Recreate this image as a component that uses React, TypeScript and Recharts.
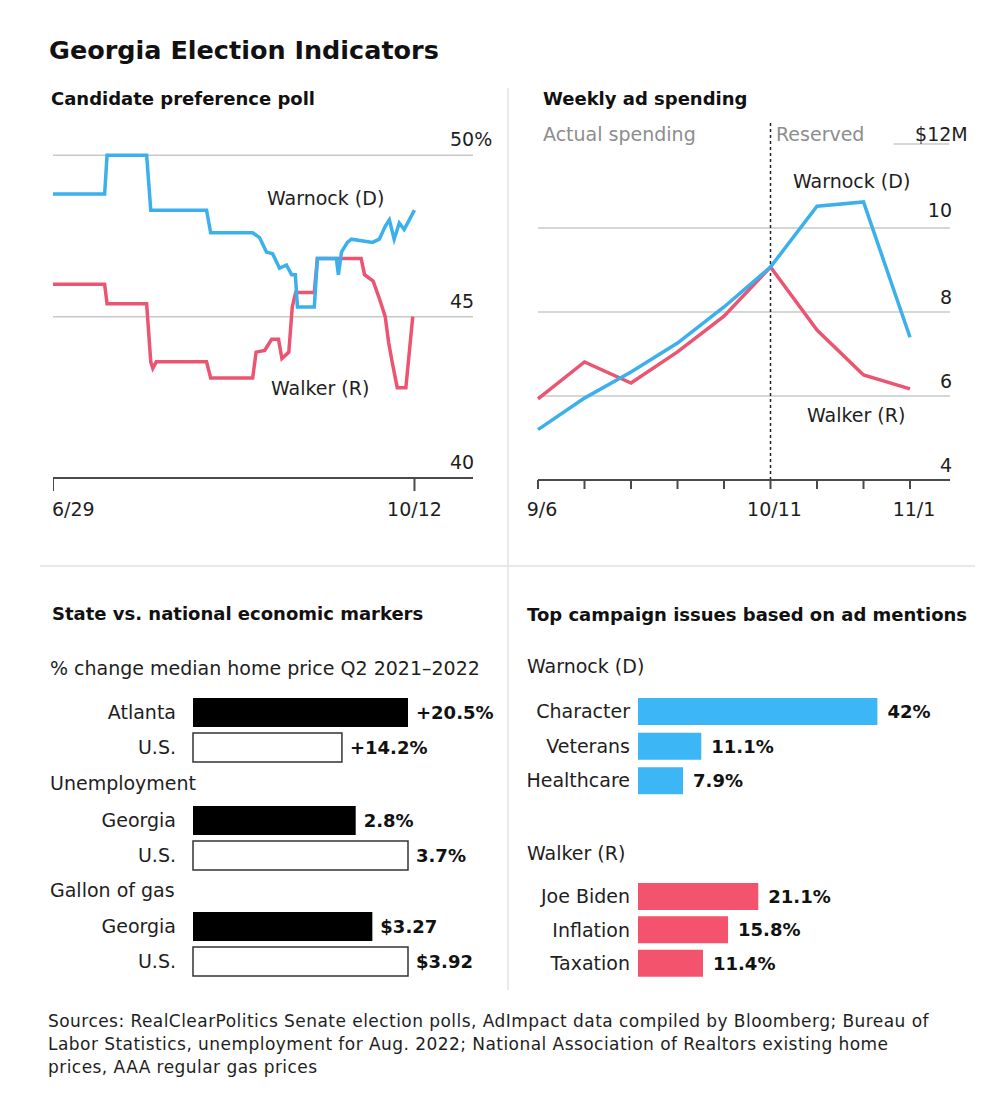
import React from 'react';
import { LineChart, Line, XAxis, YAxis, ReferenceLine, BarChart, Bar, Cell, LabelList } from 'recharts';

const FONT = '"DejaVu Sans", sans-serif';
const BLUE = '#3bb0ec';
const RED = '#eb5571';
const BLUE_BAR = '#3cb6f5';
const RED_BAR = '#f4536d';
const GRID = '#c8c8c8';
const AXIS = '#4a4a4a';
const INK = '#1e1e1e';
const GRAY = '#8d8d8d';

// Candidate preference poll (days after 6/29, percent)
const warnockPollDays = [0, 15, 15.7, 27.2, 28.4, 44.6, 45.8, 58, 60, 62, 63.8, 65.8, 67.8, 69.3, 70.4, 71, 75.9, 76.8, 82.3, 82.9, 83.8, 85.5, 86.7, 92.8, 94.8, 96.5, 97.7, 99.1, 100.6, 102, 103.5, 105];
const warnockPollValues = [48.8, 48.8, 50, 50, 48.3, 48.3, 47.6, 47.6, 47.45, 47.0, 46.95, 46.5, 46.6, 46.3, 46.3, 45.3, 45.3, 46.8, 46.8, 46.3, 47.0, 47.3, 47.4, 47.3, 47.4, 47.8, 48.0, 47.4, 47.9, 47.7, 48.0, 48.3];
const walkerPollDays = [0, 15, 15.7, 27.2, 28.4, 29, 30, 44.6, 45.8, 58, 59, 61.5, 63.5, 65.5, 66.5, 68.5, 69.5, 70.5, 75.9, 76.8, 89.5, 90.5, 93, 95, 96.5, 97.5, 98.5, 100, 102.5, 104.5];
const walkerPollValues = [46.0, 46.0, 45.4, 45.4, 43.6, 43.4, 43.6, 43.6, 43.1, 43.1, 43.9, 43.95, 44.3, 44.3, 43.7, 43.9, 45.3, 45.75, 45.75, 46.8, 46.8, 46.3, 46.1, 45.5, 45.0, 44.2, 43.6, 42.8, 42.8, 45.0];
const pollTickDays = [0, 105];
const pollTickLabels = ['6/29', '10/12'];
const pollGridValues = [40, 45, 50];
const pollGridLabels = ['40', '45', '50%'];

// Weekly ad spending ($M), weeks from 9/6
const adWeekLabels = ['9/6', '9/13', '9/20', '9/27', '10/4', '10/11', '10/18', '10/25', '11/1'];
const warnockAd = [5.2, 5.95, 6.57, 7.26, 8.12, 9.07, 10.52, 10.62, 7.4];
const walkerAd = [5.93, 6.81, 6.31, 7.05, 7.9, 9.07, 7.57, 6.5, 6.17];
const adShownTicks = ['9/6', '10/11', '11/1'];
const adGridValues = [4, 6, 8, 10];

// Economic markers
const pairNames = ['U.S.'];
const homeNames = ['Atlanta', 'U.S.'];
const homeValues = [20.5, 14.2];
const jobNames = ['Georgia', 'U.S.'];
const jobValues = [2.8, 3.7];
const gasNames = ['Georgia', 'U.S.'];
const gasValues = [3.27, 3.92];

// Campaign issues (% of ad mentions)
const warnockIssues = ['Character', 'Veterans', 'Healthcare'];
const warnockShares = [42, 11.1, 7.9];
const walkerIssues = ['Joe Biden', 'Inflation', 'Taxation'];
const walkerShares = [21.1, 15.8, 11.4];

const zipPoll = (days: number[], vals: number[]) => days.map((d, i) => ({ day: d, v: vals[i] }));
const warnockPoll = zipPoll(warnockPollDays, warnockPollValues);
const walkerPoll = zipPoll(walkerPollDays, walkerPollValues);
const adData = adWeekLabels.map((w, i) => ({ week: i, label: w, warnock: warnockAd[i], walker: walkerAd[i] }));

function GridLabel(props: any) {
  const { viewBox, text, dx, dy, anchor } = props;
  if (!viewBox) return null;
  return (
    <text x={viewBox.x + viewBox.width + dx} y={viewBox.y + dy} textAnchor={anchor} fill={INK} fontSize={19} fontFamily={FONT}>
      {text}
    </text>
  );
}

function PollTick(props: any) {
  const { x, y, payload } = props;
  const i = pollTickDays.indexOf(payload.value);
  return (
    <text x={x} y={y} dy={14} dx={i === 0 ? -1 : 0} textAnchor={i === 0 ? 'start' : 'middle'} fill={INK} fontSize={19} fontFamily={FONT}>
      {pollTickLabels[i]}
    </text>
  );
}

function AdTick(props: any) {
  const { x, y, payload } = props;
  const label = adWeekLabels[payload.value];
  if (!adShownTicks.includes(label)) return null;
  return (
    <text x={x} y={y} dy={14} dx={4} textAnchor="middle" fill={INK} fontSize={19} fontFamily={FONT}>
      {label}
    </text>
  );
}

function PollChart() {
  return (
    <div style={{ position: 'absolute', left: 53, top: 123 }}>
      <LineChart width={460} height={405} margin={{ top: 0, right: 40, left: 0, bottom: 0 }}>
        <XAxis
          type="number"
          dataKey="day"
          domain={[0, 122]}
          ticks={pollTickDays}
          interval={0}
          height={50}
          tickSize={13}
          tickMargin={11}
          axisLine={{ stroke: AXIS, strokeWidth: 2 }}
          tickLine={{ stroke: AXIS, strokeWidth: 2 }}
          tick={<PollTick />}
        />
        <YAxis hide type="number" domain={[40, 51]} />
        {pollGridValues.map((v, i) => (
          <ReferenceLine
            key={v}
            y={v}
            stroke={v === 40 ? 'none' : GRID}
            strokeWidth={1.5}
            label={<GridLabel text={pollGridLabels[i]} dx={-23} dy={-9} anchor="start" />}
          />
        ))}
        <Line data={walkerPoll} dataKey="v" type="linear" stroke={RED} strokeWidth={3.5} dot={false} isAnimationActive={false} />
        <Line data={warnockPoll} dataKey="v" type="linear" stroke={BLUE} strokeWidth={3.5} dot={false} isAnimationActive={false} />
      </LineChart>
    </div>
  );
}

function AdChart() {
  return (
    <div style={{ position: 'absolute', left: 518, top: 103 }}>
      <LineChart width={462} height={427} data={adData} margin={{ top: 20, right: 30, left: 20, bottom: 0 }}>
        <XAxis
          type="number"
          dataKey="week"
          domain={[0, 8.86]}
          ticks={adData.map((d) => d.week)}
          interval={0}
          height={50}
          tickSize={9}
          tickMargin={13}
          axisLine={{ stroke: AXIS, strokeWidth: 2 }}
          tickLine={{ stroke: AXIS, strokeWidth: 2 }}
          tick={<AdTick />}
        />
        <YAxis hide type="number" domain={[4, 12.5]} />
        {adGridValues.map((v) => (
          <ReferenceLine
            key={v}
            y={v}
            stroke={v === 4 ? 'none' : GRID}
            strokeWidth={1.5}
            label={<GridLabel text={String(v)} dx={2} dy={v === 10 ? -11 : -8} anchor="end" />}
          />
        ))}
        <ReferenceLine
          segment={[{ x: 7.65, y: 12 }, { x: 8.84, y: 12 }]}
          stroke={GRID}
          strokeWidth={1.5}
          label={<GridLabel text="$12M" dx={-34} dy={-3} anchor="start" />}
        />
        <ReferenceLine x={5} stroke="#222" strokeWidth={1.5} strokeDasharray="3 3" />
        <Line dataKey="walker" type="linear" stroke={RED} strokeWidth={3.5} dot={false} isAnimationActive={false} />
        <Line dataKey="warnock" type="linear" stroke={BLUE} strokeWidth={3.5} dot={false} isAnimationActive={false} />
      </LineChart>
    </div>
  );
}

function PairBars(props: { left: number; top: number; names: string[]; values: number[]; fmt: (v: number) => string }) {
  const { left, top, names, values, fmt } = props;
  const data = names.map((n, i) => ({ name: n, value: values[i] }));
  const max = Math.max(...values);
  return (
    <div style={{ position: 'absolute', left, top }}>
      <BarChart width={448} height={74} data={data} layout="vertical" margin={{ top: 2, right: 90, left: 0, bottom: 2 }}>
        <XAxis type="number" hide domain={[0, max]} />
        <YAxis
          type="category"
          dataKey="name"
          width={143}
          axisLine={false}
          tickLine={false}
          tickMargin={11}
          tick={{ fill: INK, fontSize: 19, fontFamily: FONT }}
        />
        <Bar dataKey="value" barSize={29} isAnimationActive={false}>
          {data.map((d) => (
            <Cell
              key={d.name}
              fill={pairNames.includes(d.name) ? '#fff' : '#000'}
              stroke={pairNames.includes(d.name) ? '#333' : 'none'}
              strokeWidth={1.5}
            />
          ))}
          <LabelList
            dataKey="value"
            position="right"
            offset={8}
            formatter={(v: any) => fmt(Number(v))}
            fill="#111"
            fontSize={18}
            fontWeight="bold"
            fontFamily={FONT}
          />
        </Bar>
      </BarChart>
    </div>
  );
}

function IssueBars(props: { top: number; plotHeight: number; names: string[]; values: number[]; color: string }) {
  const { top, plotHeight, names, values, color } = props;
  const data = names.map((n, i) => ({ name: n, value: values[i] }));
  return (
    <div style={{ position: 'absolute', left: 510, top }}>
      <BarChart width={458} height={plotHeight + 4} data={data} layout="vertical" margin={{ top: 2, right: 45, left: 0, bottom: 2 }}>
        <XAxis type="number" hide domain={[0, 50]} />
        <YAxis
          type="category"
          dataKey="name"
          width={128}
          axisLine={false}
          tickLine={false}
          tickMargin={2}
          tick={{ fill: INK, fontSize: 19, fontFamily: FONT }}
        />
        <Bar dataKey="value" barSize={27} fill={color} isAnimationActive={false}>
          <LabelList
            dataKey="value"
            position="right"
            offset={10}
            formatter={(v: any) => `${v}%`}
            fill="#111"
            fontSize={18}
            fontWeight="bold"
            fontFamily={FONT}
          />
        </Bar>
      </BarChart>
    </div>
  );
}

export default function App() {
  const t = (x: number, y: number, s: string, size = 19, bold = false, fill = INK, spacing = 0) => (
    <text x={x} y={y} fontSize={size} fontWeight={bold ? 'bold' : 'normal'} fill={fill} fontFamily={FONT} letterSpacing={spacing}>
      {s}
    </text>
  );
  return (
    <div style={{ position: 'absolute', left: 0, top: 0, width: 1007, height: 1101, background: '#fff', fontFamily: FONT }}>
      <svg width={1007} height={1101} style={{ position: 'absolute', left: 0, top: 0 }}>
        <line x1={508} y1={88} x2={508} y2={990} stroke="#e2e2e2" strokeWidth={1.5} />
        <line x1={40} y1={566} x2={975} y2={566} stroke="#e2e2e2" strokeWidth={1.5} />
        {t(49, 59, 'Georgia Election Indicators', 25.5, true, '#111')}
        {t(51, 105, 'Candidate preference poll', 18, true, '#111')}
        {t(543, 105, 'Weekly ad spending', 18, true, '#111')}
        {t(543, 141, 'Actual spending', 19, false, GRAY)}
        {t(776, 141, 'Reserved', 19, false, GRAY)}
        {t(267, 205, 'Warnock (D)')}
        {t(271, 395, 'Walker (R)')}
        {t(793, 188, 'Warnock (D)')}
        {t(807, 422, 'Walker (R)')}
        {t(52, 620, 'State vs. national economic markers', 18, true, '#111')}
        {t(527, 621, 'Top campaign issues based on ad mentions', 18, true, '#111')}
        {t(50, 675, '% change median home price Q2 2021–2022')}
        {t(50, 790, 'Unemployment')}
        {t(50, 897, 'Gallon of gas')}
        {t(527, 673, 'Warnock (D)')}
        {t(527, 860, 'Walker (R)')}
        {t(48, 1027, 'Sources: RealClearPolitics Senate election polls, AdImpact data compiled by Bloomberg; Bureau of', 17, false, INK, 0.45)}
        {t(48, 1050, 'Labor Statistics, unemployment for Aug. 2022; National Association of Realtors existing home', 17, false, INK, 0.45)}
        {t(48, 1073, 'prices, AAA regular gas prices', 17, false, INK, 0.45)}
      </svg>
      <PollChart />
      <AdChart />
      <PairBars left={50} top={693} names={homeNames} values={homeValues} fmt={(v) => `+${v.toFixed(1)}%`} />
      <PairBars left={50} top={801} names={jobNames} values={jobValues} fmt={(v) => `${v.toFixed(1)}%`} />
      <PairBars left={50} top={907} names={gasNames} values={gasValues} fmt={(v) => `$${v.toFixed(2)}`} />
      <IssueBars top={692} plotHeight={104} names={warnockIssues} values={warnockShares} color={BLUE_BAR} />
      <IssueBars top={878} plotHeight={100} names={walkerIssues} values={walkerShares} color={RED_BAR} />
    </div>
  );
}
